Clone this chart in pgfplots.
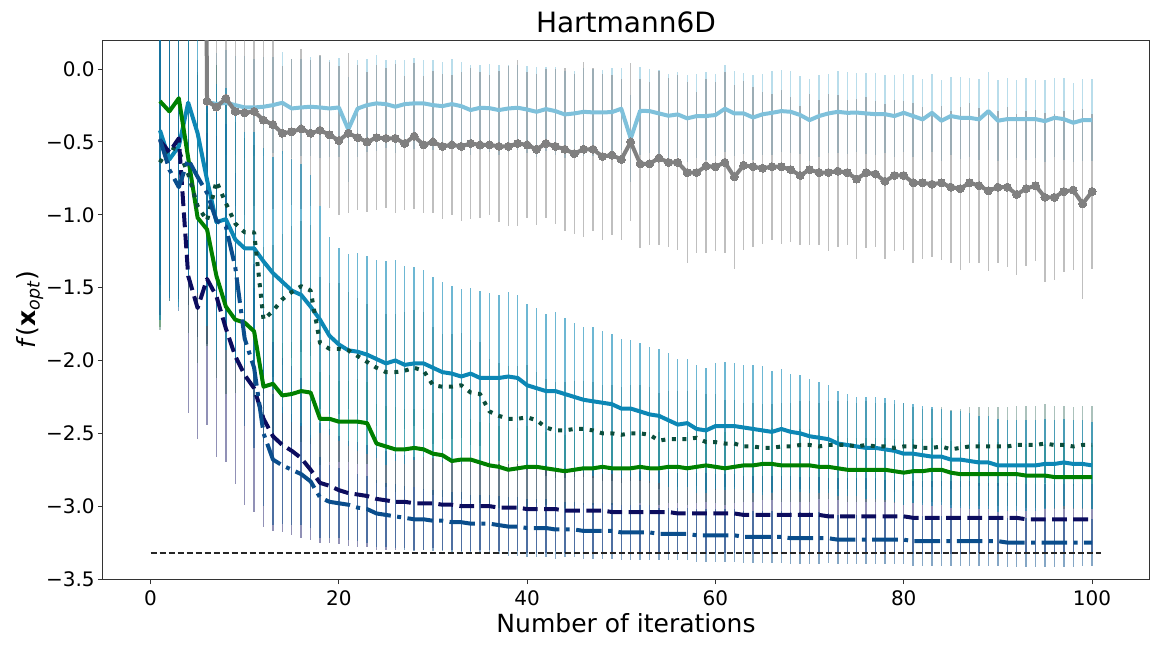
\documentclass[border=0pt]{standalone}
\usepackage{fontspec}
\setmainfont{DejaVu Sans}
\usepackage{pgfplots}
\usepackage{pgfplotstable}
\pgfplotsset{compat=1.18}
\definecolor{lbc}{HTML}{7FC1DB}
\definecolor{grc}{HTML}{808080}
\definecolor{blc}{HTML}{0C87B5}
\definecolor{gnc}{HTML}{008000}
\definecolor{dgc}{HTML}{0B4D3B}
\definecolor{ndc}{HTML}{0C0C5E}
\definecolor{dbc}{HTML}{0A4D8C}
\pgfplotstableread{
x lb lbe gr gre bl ble gn gne dg dge nd nde db dbe
1 nan nan nan nan -0.42 1.30 -0.22 1.55 -0.64 1.15 -0.49 1.20 -0.48 1.00
2 nan nan nan nan -0.62 0.95 -0.29 1.30 -0.53 1.00 -0.57 1.00 -0.69 0.90
3 nan nan nan nan -0.53 1.10 -0.20 1.40 -0.56 1.00 -0.475 1.10 -0.81 0.85
4 nan nan nan nan -0.23 1.20 -0.61 1.20 -0.72 0.90 -1.42 0.94 -0.62 0.85
5 nan nan 10 0 -0.44 1.10 -1.02 1.00 -0.94 0.90 -1.64 0.90 -0.74 0.80
6 -0.224 0.36 -0.22 0.70 -0.76 1.00 -1.10 0.80 -1.04 0.85 -1.44 1.00 -0.85 0.80
7 -0.24 0.35 -0.26 0.69 -1.05 0.95 -1.42 0.70 -0.77 0.80 -1.56 1.10 -1.04 0.75
8 -0.231 0.36 -0.20 0.70 -1.03 0.90 -1.63 0.60 -0.92 0.75 -1.78 0.92 -1.08 0.70
9 -0.247 0.34 -0.29 0.65 -1.17 0.85 -1.72 0.50 -1.06 0.70 -1.97 0.88 -1.36 0.65
10 -0.263 0.35 -0.30 0.70 -1.23 0.80 -1.74 0.45 -1.12 0.65 -2.10 0.89 -1.85 0.60
11 -0.263 0.33 -0.29 0.65 -1.23 0.80 -1.80 0.45 -1.12 0.60 -2.19 0.85 -2.05 0.55
12 -0.258 0.34 -0.35 0.62 -1.32 0.78 -2.18 0.38 -1.72 0.50 -2.40 0.74 -2.50 0.50
13 -0.247 0.33 -0.38 0.58 -1.40 0.80 -2.16 0.37 -1.66 0.45 -2.52 0.65 -2.68 0.45
14 -0.231 0.35 -0.44 0.46 -1.46 0.90 -2.24 0.36 -1.58 0.45 -2.58 0.60 -2.72 0.40
15 -0.27 0.34 -0.43 0.50 -1.52 0.90 -2.23 0.36 -1.53 0.45 -2.62 0.58 -2.75 0.38
16 -0.263 0.33 -0.41 0.55 -1.55 0.90 -2.21 0.35 -1.49 0.45 -2.67 0.55 -2.78 0.35
17 -0.258 0.34 -0.44 0.50 -1.63 0.90 -2.22 0.35 -1.52 0.45 -2.75 0.48 -2.83 0.32
18 -0.263 0.35 -0.42 0.52 -1.72 0.78 -2.40 0.32 -1.88 0.45 -2.84 0.41 -2.94 0.28
19 -0.27 0.33 -0.45 0.50 -1.83 0.68 -2.40 0.30 -1.92 0.45 -2.86 0.39 -2.97 0.25
20 -0.263 0.34 -0.49 0.51 -1.89 0.66 -2.42 0.28 -1.92 0.45 -2.89 0.37 -2.98 0.24
21 -0.414 0.36 -0.44 0.55 -1.93 0.66 -2.42 0.28 -1.93 0.40 -2.91 0.36 -2.99 0.24
22 -0.27 0.33 -0.47 0.50 -1.94 0.68 -2.42 0.29 -1.97 0.40 -2.92 0.36 -3.01 0.23
23 -0.247 0.32 -0.50 0.48 -1.96 0.68 -2.43 0.28 -2.01 0.40 -2.93 0.35 -3.02 0.23
24 -0.235 0.33 -0.47 0.50 -1.99 0.68 -2.57 0.27 -2.05 0.40 -2.95 0.35 -3.05 0.23
25 -0.24 0.30 -0.475 0.48 -2.02 0.70 -2.59 0.28 -2.08 0.40 -2.96 0.34 -3.06 0.22
26 -0.258 0.32 -0.475 0.51 -2.00 0.69 -2.61 0.29 -2.08 0.40 -2.97 0.33 -3.07 0.22
27 -0.24 0.30 -0.51 0.46 -2.03 0.68 -2.61 0.28 -2.07 0.40 -2.97 0.32 -3.08 0.22
28 -0.235 0.31 -0.46 0.50 -2.02 0.66 -2.60 0.27 -2.05 0.40 -2.98 0.32 -3.09 0.22
29 -0.235 0.30 -0.52 0.47 -2.02 0.64 -2.61 0.28 -2.07 0.40 -2.98 0.32 -3.09 0.21
30 -0.247 0.31 -0.50 0.49 -2.05 0.62 -2.64 0.28 -2.17 0.40 -2.98 0.31 -3.10 0.21
31 -0.254 0.30 -0.53 0.50 -2.08 0.62 -2.65 0.29 -2.18 0.36 -2.99 0.31 -3.10 0.21
32 -0.24 0.31 -0.52 0.48 -2.09 0.60 -2.69 0.28 -2.18 0.36 -2.99 0.31 -3.11 0.21
33 -0.254 0.30 -0.53 0.51 -2.11 0.60 -2.68 0.27 -2.17 0.36 -3.00 0.31 -3.11 0.21
34 -0.281 0.31 -0.51 0.52 -2.09 0.59 -2.68 0.28 -2.22 0.36 -3.00 0.31 -3.12 0.20
35 -0.265 0.29 -0.52 0.50 -2.12 0.60 -2.70 0.28 -2.23 0.36 -3.00 0.30 -3.12 0.20
36 -0.268 0.30 -0.52 0.48 -2.12 0.58 -2.72 0.29 -2.35 0.36 -3.00 0.30 -3.12 0.20
37 -0.281 0.31 -0.53 0.52 -2.12 0.57 -2.73 0.28 -2.38 0.36 -3.01 0.30 -3.13 0.20
38 -0.27 0.30 -0.53 0.55 -2.11 0.58 -2.75 0.27 -2.40 0.36 -3.01 0.30 -3.14 0.20
39 -0.265 0.29 -0.51 0.57 -2.12 0.57 -2.74 0.28 -2.40 0.36 -3.01 0.30 -3.14 0.20
40 -0.277 0.30 -0.52 0.50 -2.17 0.56 -2.73 0.28 -2.39 0.36 -3.02 0.30 -3.15 0.20
41 -0.293 0.31 -0.55 0.52 -2.19 0.55 -2.73 0.25 -2.41 0.33 -3.02 0.30 -3.15 0.20
42 -0.274 0.29 -0.51 0.51 -2.21 0.53 -2.74 0.25 -2.46 0.33 -3.02 0.30 -3.15 0.20
43 -0.288 0.30 -0.53 0.53 -2.21 0.54 -2.75 0.25 -2.48 0.33 -3.02 0.29 -3.16 0.20
44 -0.311 0.30 -0.55 0.56 -2.23 0.52 -2.76 0.25 -2.48 0.33 -3.03 0.29 -3.16 0.19
45 -0.304 0.29 -0.58 0.55 -2.25 0.51 -2.75 0.25 -2.47 0.33 -3.03 0.29 -3.16 0.19
46 -0.293 0.30 -0.55 0.60 -2.27 0.50 -2.74 0.25 -2.47 0.33 -3.03 0.29 -3.17 0.19
47 -0.297 0.30 -0.55 0.56 -2.28 0.51 -2.74 0.25 -2.48 0.33 -3.03 0.29 -3.17 0.19
48 -0.297 0.29 -0.60 0.57 -2.29 0.49 -2.73 0.25 -2.50 0.33 -3.03 0.29 -3.17 0.19
49 -0.295 0.30 -0.59 0.55 -2.30 0.48 -2.74 0.25 -2.50 0.33 -3.04 0.29 -3.17 0.19
50 -0.272 0.28 -0.62 0.55 -2.33 0.48 -2.74 0.25 -2.51 0.33 -3.04 0.28 -3.18 0.19
51 -0.476 0.30 -0.50 0.54 -2.33 0.47 -2.74 0.25 -2.50 0.33 -3.04 0.28 -3.18 0.19
52 -0.286 0.30 -0.65 0.58 -2.35 0.47 -2.73 0.25 -2.50 0.33 -3.04 0.28 -3.18 0.19
53 -0.288 0.29 -0.65 0.56 -2.37 0.46 -2.74 0.25 -2.51 0.33 -3.04 0.28 -3.18 0.19
54 -0.304 0.30 -0.61 0.60 -2.38 0.46 -2.74 0.25 -2.55 0.33 -3.04 0.28 -3.19 0.18
55 -0.32 0.29 -0.64 0.58 -2.41 0.46 -2.73 0.25 -2.54 0.33 -3.04 0.28 -3.19 0.18
56 -0.311 0.29 -0.64 0.60 -2.44 0.45 -2.73 0.25 -2.54 0.33 -3.05 0.28 -3.19 0.18
57 -0.338 0.30 -0.71 0.62 -2.43 0.44 -2.74 0.25 -2.54 0.33 -3.05 0.28 -3.19 0.18
58 -0.322 0.29 -0.71 0.55 -2.47 0.44 -2.73 0.25 -2.53 0.33 -3.05 0.28 -3.20 0.18
59 -0.322 0.30 -0.665 0.60 -2.48 0.43 -2.72 0.25 -2.56 0.33 -3.05 0.28 -3.20 0.18
60 -0.315 0.28 -0.67 0.58 -2.45 0.43 -2.73 0.25 -2.56 0.33 -3.05 0.27 -3.20 0.18
61 -0.272 0.30 -0.64 0.62 -2.45 0.44 -2.74 0.25 -2.57 0.30 -3.05 0.27 -3.20 0.18
62 -0.304 0.29 -0.74 0.63 -2.45 0.43 -2.73 0.25 -2.57 0.30 -3.05 0.27 -3.20 0.18
63 -0.304 0.28 -0.66 0.58 -2.46 0.43 -2.72 0.25 -2.59 0.30 -3.06 0.27 -3.21 0.18
64 -0.332 0.29 -0.67 0.55 -2.47 0.44 -2.72 0.25 -2.59 0.30 -3.06 0.27 -3.21 0.18
65 -0.31 0.28 -0.68 0.52 -2.48 0.44 -2.71 0.25 -2.60 0.30 -3.06 0.27 -3.21 0.18
66 -0.30 0.29 -0.67 0.50 -2.49 0.42 -2.71 0.25 -2.60 0.30 -3.06 0.27 -3.21 0.18
67 -0.288 0.28 -0.67 0.53 -2.47 0.41 -2.72 0.25 -2.59 0.30 -3.06 0.27 -3.21 0.18
68 -0.293 0.28 -0.69 0.50 -2.49 0.40 -2.72 0.25 -2.59 0.30 -3.06 0.27 -3.22 0.18
69 -0.315 0.27 -0.73 0.48 -2.50 0.40 -2.72 0.25 -2.58 0.30 -3.06 0.26 -3.22 0.18
70 -0.35 0.28 -0.69 0.52 -2.52 0.39 -2.72 0.25 -2.58 0.30 -3.06 0.26 -3.22 0.18
71 -0.322 0.28 -0.71 0.50 -2.53 0.38 -2.73 0.22 -2.59 0.30 -3.06 0.26 -3.22 0.18
72 -0.304 0.27 -0.71 0.54 -2.54 0.37 -2.73 0.22 -2.58 0.30 -3.07 0.26 -3.22 0.17
73 -0.293 0.28 -0.70 0.52 -2.57 0.36 -2.74 0.22 -2.58 0.30 -3.07 0.26 -3.23 0.17
74 -0.30 0.28 -0.71 0.50 -2.58 0.35 -2.75 0.22 -2.58 0.30 -3.07 0.26 -3.23 0.17
75 -0.298 0.27 -0.755 0.55 -2.59 0.34 -2.75 0.22 -2.59 0.30 -3.07 0.26 -3.23 0.17
76 -0.304 0.28 -0.71 0.52 -2.60 0.35 -2.75 0.22 -2.58 0.30 -3.07 0.26 -3.23 0.17
77 -0.309 0.28 -0.72 0.50 -2.60 0.35 -2.75 0.22 -2.59 0.30 -3.07 0.26 -3.23 0.17
78 -0.309 0.27 -0.77 0.53 -2.61 0.35 -2.75 0.22 -2.59 0.30 -3.07 0.25 -3.23 0.17
79 -0.322 0.28 -0.73 0.52 -2.62 0.35 -2.76 0.22 -2.60 0.30 -3.07 0.25 -3.23 0.17
80 -0.30 0.27 -0.73 0.51 -2.64 0.35 -2.77 0.22 -2.59 0.30 -3.07 0.25 -3.23 0.17
81 -0.322 0.28 -0.78 0.55 -2.64 0.34 -2.76 0.22 -2.59 0.27 -3.08 0.25 -3.24 0.17
82 -0.345 0.28 -0.78 0.52 -2.65 0.34 -2.76 0.22 -2.60 0.27 -3.08 0.25 -3.24 0.17
83 -0.30 0.27 -0.79 0.50 -2.66 0.34 -2.75 0.22 -2.60 0.27 -3.08 0.25 -3.24 0.17
84 -0.354 0.28 -0.78 0.53 -2.66 0.33 -2.75 0.22 -2.59 0.27 -3.08 0.25 -3.24 0.17
85 -0.322 0.27 -0.81 0.52 -2.68 0.33 -2.77 0.22 -2.61 0.27 -3.08 0.25 -3.24 0.17
86 -0.334 0.28 -0.82 0.56 -2.68 0.33 -2.78 0.22 -2.60 0.27 -3.08 0.25 -3.24 0.17
87 -0.334 0.27 -0.78 0.55 -2.69 0.33 -2.78 0.22 -2.59 0.27 -3.08 0.25 -3.24 0.17
88 -0.345 0.28 -0.80 0.53 -2.70 0.32 -2.78 0.22 -2.59 0.27 -3.08 0.24 -3.24 0.17
89 -0.288 0.27 -0.835 0.55 -2.70 0.32 -2.78 0.22 -2.59 0.27 -3.08 0.24 -3.24 0.17
90 -0.354 0.28 -0.81 0.52 -2.72 0.32 -2.78 0.22 -2.59 0.27 -3.08 0.24 -3.24 0.17
91 -0.343 0.28 -0.81 0.55 -2.72 0.31 -2.78 0.22 -2.59 0.27 -3.08 0.24 -3.25 0.17
92 -0.343 0.27 -0.86 0.55 -2.72 0.31 -2.78 0.22 -2.58 0.27 -3.08 0.24 -3.25 0.17
93 -0.343 0.28 -0.82 0.53 -2.72 0.31 -2.79 0.22 -2.58 0.27 -3.09 0.24 -3.25 0.17
94 -0.343 0.27 -0.80 0.52 -2.72 0.31 -2.79 0.22 -2.58 0.27 -3.09 0.24 -3.25 0.17
95 -0.357 0.28 -0.88 0.58 -2.71 0.31 -2.79 0.22 -2.57 0.27 -3.09 0.24 -3.25 0.17
96 -0.334 0.27 -0.88 0.57 -2.71 0.30 -2.80 0.22 -2.58 0.27 -3.09 0.24 -3.25 0.17
97 -0.343 0.28 -0.84 0.55 -2.70 0.30 -2.80 0.22 -2.58 0.27 -3.09 0.24 -3.25 0.17
98 -0.368 0.27 -0.83 0.55 -2.71 0.30 -2.80 0.22 -2.59 0.27 -3.09 0.24 -3.25 0.17
99 -0.35 0.28 -0.925 0.65 -2.71 0.30 -2.80 0.22 -2.58 0.27 -3.09 0.24 -3.25 0.16
100 -0.35 0.28 -0.84 0.53 -2.72 0.30 -2.80 0.22 -2.58 0.27 -3.09 0.24 -3.25 0.16
}\data
\pgfplotsset{
  ebar/.style 2 args={draw=none, mark=none, forget plot,
    error bars/.cd, y dir=both, y explicit, error mark=none,
    error bar style={draw=#1, draw opacity=#2, line width=0.7pt}},
  mainline/.style={line width=2pt, line join=round, mark=none}
}
\begin{document}
\begin{tikzpicture}
\begin{axis}[
  scale only axis, width=523pt, height=269.5pt,
  xmin=-5.05, xmax=106.05, ymin=-3.5, ymax=0.2,
  unbounded coords=jump,
  axis line style={black!80, line width=0.5pt},
  tick align=outside, tick pos=left,
  major tick length=2.5pt,
  tick style={black!80, line width=0.5pt},
  xtick={0,20,40,60,80,100},
  xticklabels={0,20,40,60,80,100},
  ytick={-3.5,-3,-2.5,-2,-1.5,-1,-0.5,0},
  yticklabels={−3.5,−3.0,−2.5,−2.0,−1.5,−1.0,−0.5,0.0},
  ticklabel style={font=\fontsize{10}{12}\selectfont},
  xticklabel style={anchor=base, inner sep=0pt, yshift=-10.5pt},
  yticklabel style={anchor=east, inner sep=0pt, xshift=-1.5pt},
  title={Hartmann6D},
  title style={font=\fontsize{14}{16}\selectfont, at={(axis description cs:0.5,1)}, anchor=base, inner sep=0pt, yshift=-2.25pt},
  xlabel={Number of iterations},
  xlabel style={font=\fontsize{12.5}{15}\selectfont, at={(axis description cs:0.5,0)}, anchor=base, inner sep=0pt, yshift=-26.5pt},
  ylabel={\textit{f}(\textbf{x}\textsubscript{\textit{opt}})},
  ylabel style={font=\fontsize{12.5}{15}\selectfont, at={(axis description cs:-0.0698,0.5)}, anchor=center, inner sep=0pt},
]
\addplot[ebar={lbc}{0.55}] table[x=x, y=lb, y error=lbe] {\data};
\addplot[ebar={grc}{0.5}] table[x=x, y=gr, y error=gre] {\data};
\addplot[ebar={gnc}{0.3}] table[x=x, y=gn, y error=gne] {\data};
\addplot[ebar={dgc}{0.35}] table[x=x, y=dg, y error=dge] {\data};
\addplot[ebar={ndc}{0.45}] table[x=x, y=nd, y error=nde] {\data};
\addplot[ebar={dbc}{0.5}] table[x=x, y=db, y error=dbe] {\data};
\addplot[ebar={blc}{0.6}] table[x=x, y=bl, y error=ble] {\data};

\addplot[mainline, draw=lbc] table[x=x, y=lb] {\data};
\addplot[line width=2pt, line join=round, draw=grc, mark=*, mark size=2pt, mark options={fill=grc, draw=grc, line width=0pt}] table[x=x, y=gr] {\data};
\addplot[mainline, draw=blc] table[x=x, y=bl] {\data};
\addplot[mainline, draw=gnc] table[x=x, y=gn] {\data};
\addplot[mainline, draw=dgc, dash pattern=on 2pt off 3.3pt] table[x=x, y=dg] {\data};
\addplot[mainline, draw=ndc, dash pattern=on 7.4pt off 3.2pt] table[x=x, y=nd] {\data};
\addplot[mainline, draw=dbc, dash pattern=on 12.8pt off 3.2pt on 2pt off 3.2pt] table[x=x, y=db] {\data};
\addplot[draw=black!85, line width=0.75pt, dash pattern=on 3pt off 1.5pt, mark=none] coordinates {(0,-3.32237) (101,-3.32237)};
\end{axis}
\pgfresetboundingbox
\path ([xshift=-51.5pt,yshift=-33pt]current axis.south west) rectangle ([xshift=0.5pt,yshift=20pt]current axis.north east);
\end{tikzpicture}
\end{document}
